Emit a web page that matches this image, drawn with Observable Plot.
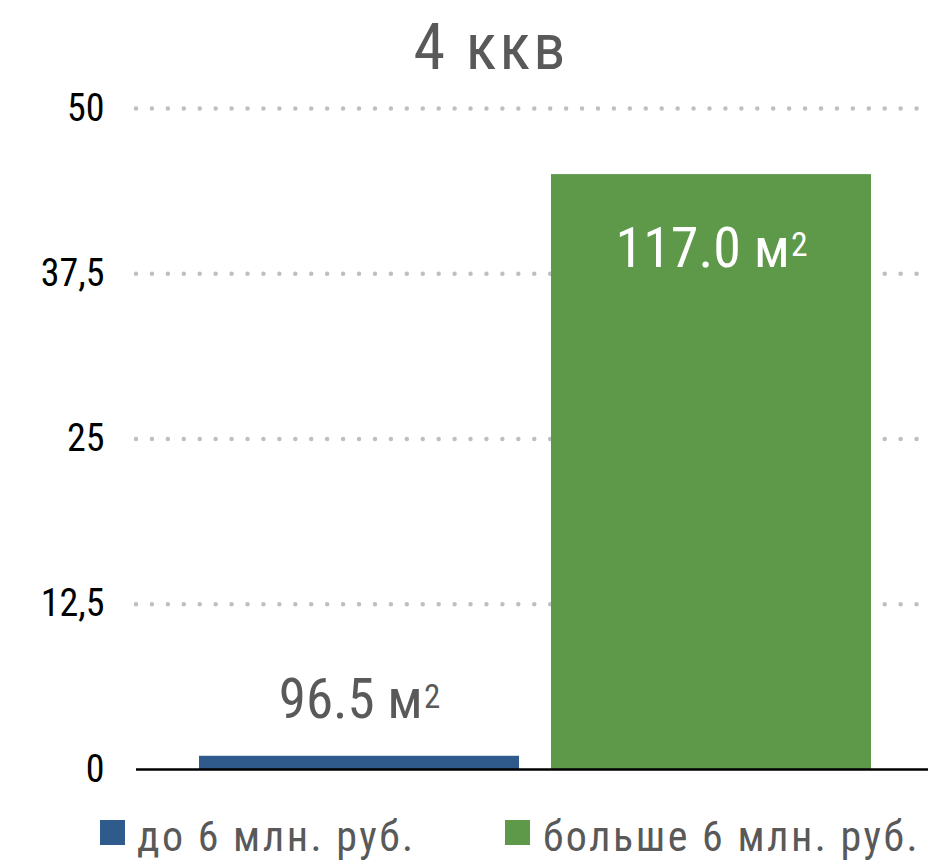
<!DOCTYPE html>
<html>
<head>
<meta charset="utf-8">
<script src="https://cdn.jsdelivr.net/npm/d3@7"></script>
<script src="https://cdn.jsdelivr.net/npm/@observablehq/plot@0.6"></script>
<style>
  html, body { margin: 0; padding: 0; background: #fff; }
  body { width: 928px; height: 862px; overflow: hidden; font-family: "Roboto Condensed", "Liberation Sans Narrow", "DejaVu Sans Condensed", "Roboto", sans-serif; }
  #title { height: 80px; line-height: 70px; padding-top: 13px; font-size: 64px; letter-spacing: 3px; color: #595959; text-align: center; padding-left: 54px; box-sizing: border-box; width: 928px; overflow: visible; }
  #chart { height: 719px; }
  #legend { position: relative; height: 63px; }
  .sw { position: absolute; width: 25px; height: 25px; top: 21px; }
  .lt { position: absolute; top: 17px; font-size: 42px; line-height: 42px; letter-spacing: 2.5px; color: #595959; white-space: nowrap; }
</style>
</head>
<body>
<div id="title"></div>
<div id="chart"></div>
<div id="legend"></div>
<script>
const title = "4 ккв";
const categories = ["до 6 млн. руб.", "больше 6 млн. руб."];
const values = [1, 45];
const areaLabels = ["96.5 м²", "117.0 м²"];
const colors = ["#2E5A8C", "#5E9849"];
const yTicks = [0, 12.5, 25, 37.5, 50];

const data = categories.map((c, i) => ({category: c, value: values[i], label: areaLabels[i]}));

document.getElementById("title").textContent = title;

const font = "'Roboto Condensed', 'Liberation Sans Narrow', 'DejaVu Sans Condensed', Roboto, sans-serif";

const chart = Plot.plot({
  width: 928,
  height: 719,
  marginLeft: 136,
  marginRight: 0,
  marginTop: 28,
  marginBottom: 30,
  style: {fontFamily: font, background: "#fff"},
  x: {domain: categories, paddingInner: 0.09, paddingOuter: 0.17, align: 0.53, axis: null},
  y: {domain: [0, 50], ticks: yTicks, label: null},
  color: {domain: categories, range: colors},
  marks: [
    Plot.gridY(yTicks.slice(1), {stroke: "#bfbfbf", strokeOpacity: 1, strokeWidth: 4.5, strokeLinecap: "round", strokeDasharray: "0 15.93"}),
    Plot.axisY(yTicks, {tickSize: 0, tickPadding: 32, fontSize: 38, fill: "#000", label: null, tickFormat: d => String(d).replace(".", ",")}),
    Plot.barY(data, {x: "category", y: "value", fill: "category"}),
    Plot.ruleY([0], {stroke: "#000", strokeWidth: 2.5}),
    Plot.text(data.filter((d, i) => i === 0), {x: "category", y: "value", text: "label", lineAnchor: "bottom", dy: -38, fontSize: 55, fill: "#595959"}),
    Plot.text(data.filter((d, i) => i === 1), {x: "category", y: "value", text: "label", lineAnchor: "bottom", dy: 92, fontSize: 56, fill: "#fff"})
  ]
});
document.getElementById("chart").appendChild(chart);

// render the superscript "²" as a raised, smaller "2"
chart.querySelectorAll("text").forEach(t => {
  const s = t.textContent;
  if (!s.includes("²")) return;
  const parts = s.split("²");
  const fs = parseFloat(t.getAttribute("font-size") || getComputedStyle(t).fontSize) || 56;
  while (t.firstChild) t.removeChild(t.firstChild);
  const a = document.createElementNS("http://www.w3.org/2000/svg", "tspan");
  a.textContent = parts[0];
  const b = document.createElementNS("http://www.w3.org/2000/svg", "tspan");
  b.textContent = "2";
  b.setAttribute("font-size", fs * 0.6);
  b.setAttribute("dy", -fs * 0.19);
  b.setAttribute("dx", 1);
  t.appendChild(a);
  t.appendChild(b);
});

const legend = document.getElementById("legend");
const swX = [100, 505];
const txX = [137, 543];
categories.forEach((c, i) => {
  const sw = document.createElement("div");
  sw.className = "sw";
  sw.style.left = swX[i] + "px";
  sw.style.background = colors[i];
  const t = document.createElement("div");
  t.className = "lt";
  t.style.left = txX[i] + "px";
  t.textContent = c;
  legend.appendChild(sw);
  legend.appendChild(t);
});
</script>
</body>
</html>
